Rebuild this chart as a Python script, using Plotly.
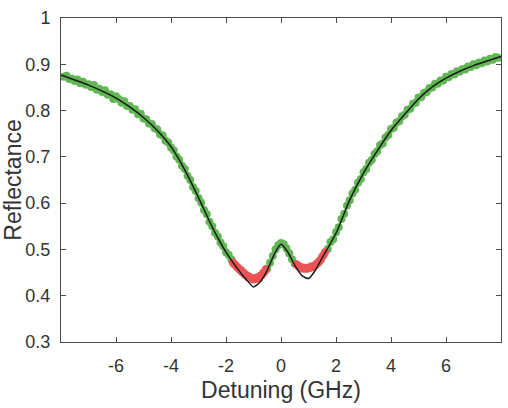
import plotly.graph_objects as go

# Measured data (green), detuning in GHz
green_x = [-7.9, -7.8, -7.7, -7.6, -7.5, -7.4, -7.3, -7.2, -7.1, -7.0,
           -6.9, -6.8, -6.7, -6.6, -6.5, -6.4, -6.3, -6.2, -6.1, -6.0,
           -5.9, -5.8, -5.7, -5.6, -5.5, -5.4, -5.3, -5.2, -5.1, -5.0,
           -4.9, -4.8, -4.7, -4.6, -4.5, -4.4, -4.3, -4.2, -4.1, -4.0,
           -3.9, -3.8, -3.7, -3.6, -3.5, -3.4, -3.3, -3.2, -3.1, -3.0,
           -2.9, -2.8, -2.7, -2.6, -2.5, -2.4, -2.3, -2.2, -2.1, -2.0,
           -1.9, -1.8,
           -0.5, -0.4, -0.3, -0.2, -0.1, 0.0, 0.1, 0.2, 0.3, 0.4, 0.5,
           1.7, 1.8, 1.9, 2.0, 2.1, 2.2, 2.3, 2.4, 2.5, 2.6,
           2.7, 2.8, 2.9, 3.0, 3.1, 3.2, 3.3, 3.4, 3.5, 3.6,
           3.7, 3.8, 3.9, 4.0, 4.1, 4.2, 4.3, 4.4, 4.5, 4.6,
           4.7, 4.8, 4.9, 5.0, 5.1, 5.2, 5.3, 5.4, 5.5, 5.6,
           5.7, 5.8, 5.9, 6.0, 6.1, 6.2, 6.3, 6.4, 6.5, 6.6,
           6.7, 6.8, 6.9, 7.0, 7.1, 7.2, 7.3, 7.4, 7.5, 7.6,
           7.7, 7.8, 7.9]
green_y = [0.873, 0.875, 0.868, 0.869, 0.864, 0.867, 0.859, 0.862, 0.856, 0.857,
           0.851, 0.855, 0.845, 0.847, 0.840, 0.844, 0.834, 0.835, 0.825, 0.831,
           0.825, 0.817, 0.820, 0.810, 0.810, 0.802, 0.803, 0.792, 0.793, 0.783,
           0.781, 0.772, 0.771, 0.762, 0.759, 0.749, 0.746, 0.735, 0.731, 0.720,
           0.714, 0.701, 0.694, 0.681, 0.674, 0.659, 0.650, 0.635, 0.626, 0.611,
           0.601, 0.585, 0.576, 0.560, 0.550, 0.536, 0.528, 0.515, 0.507, 0.494,
           0.488, 0.478,
           0.458, 0.471, 0.486, 0.500, 0.509, 0.514, 0.511, 0.502, 0.491, 0.479, 0.469,
           0.501, 0.516, 0.522, 0.537, 0.548, 0.566, 0.577, 0.595, 0.606, 0.621,
           0.629, 0.644, 0.652, 0.667, 0.674, 0.687, 0.693, 0.706, 0.712, 0.725,
           0.729, 0.742, 0.747, 0.760, 0.763, 0.774, 0.777, 0.788, 0.791, 0.802,
           0.804, 0.815, 0.817, 0.828, 0.829, 0.838, 0.840, 0.849, 0.850, 0.858,
           0.858, 0.865, 0.865, 0.873, 0.872, 0.879, 0.878, 0.885, 0.884, 0.890,
           0.889, 0.895, 0.894, 0.900, 0.898, 0.904, 0.902, 0.908, 0.906, 0.912,
           0.910, 0.916, 0.914]

# Measured data near the dips (red)
red_x = [-1.75, -1.7, -1.65, -1.6, -1.55, -1.5, -1.45, -1.4, -1.35, -1.3,
         -1.25, -1.2, -1.15, -1.1, -1.05, -1.0, -0.95, -0.9, -0.85, -0.8,
         -0.75, -0.7, -0.65, -0.6, -0.55,
         0.55, 0.6, 0.65, 0.7, 0.75, 0.8, 0.85, 0.9, 0.95, 1.0,
         1.05, 1.1, 1.15, 1.2, 1.25, 1.3, 1.35, 1.4, 1.45, 1.5,
         1.55, 1.6]
red_y = [0.472, 0.468, 0.466, 0.462, 0.460, 0.456, 0.455, 0.450, 0.449, 0.445,
         0.444, 0.440, 0.441, 0.437, 0.438, 0.435, 0.438, 0.436, 0.440, 0.438,
         0.443, 0.445, 0.449, 0.452, 0.457,
         0.468, 0.466, 0.463, 0.462, 0.459, 0.461, 0.458, 0.460, 0.458, 0.461,
         0.460, 0.463, 0.462, 0.465, 0.466, 0.469, 0.471, 0.475, 0.478, 0.484,
         0.488, 0.494]

# Fit curve (black)
fit_x = [-8, -7.5, -7, -6.5, -6, -5.5, -5, -4.5, -4, -3.5, -3, -2.5, -2, -1.5,
         -1.25, -1, -0.75, -0.5, -0.25, 0, 0.25, 0.5, 0.75, 1, 1.25, 1.5,
         2, 2.5, 3, 3.5, 4, 4.5, 5, 5.5, 6, 6.5, 7, 7.5, 8]
fit_y = [0.877, 0.866, 0.855, 0.842, 0.827, 0.808, 0.785, 0.757, 0.722, 0.672,
         0.612, 0.548, 0.494, 0.452, 0.434, 0.419, 0.430, 0.455, 0.489, 0.511,
         0.494, 0.466, 0.444, 0.437, 0.455, 0.482, 0.535, 0.607, 0.665, 0.713,
         0.757, 0.792, 0.825, 0.851, 0.870, 0.885, 0.897, 0.907, 0.917]

x_ticks = [-6, -4, -2, 0, 2, 4, 6]
y_ticks = [0.3, 0.4, 0.5, 0.6, 0.7, 0.8, 0.9, 1.0]
y_labels = ["0.3", "0.4", "0.5", "0.6", "0.7", "0.8", "0.9", "1"]

fig = go.Figure()
fig.add_trace(go.Scatter(x=green_x, y=green_y, mode="markers",
                         marker=dict(size=8, color="rgb(98,182,86)", line=dict(width=0)),
                         showlegend=False, hoverinfo="skip"))
fig.add_trace(go.Scatter(x=red_x, y=red_y, mode="markers",
                         marker=dict(size=8, color="rgb(234,84,84)", line=dict(width=0)),
                         showlegend=False, hoverinfo="skip"))
fig.add_trace(go.Scatter(x=fit_x, y=fit_y, mode="lines",
                         line=dict(color="#1a1a1a", width=1.5, shape="spline", smoothing=0.6),
                         showlegend=False, hoverinfo="skip"))

axis_common = dict(showline=True, linecolor="#4d4d4d", linewidth=1, mirror="ticks",
                   ticks="inside", ticklen=5, tickcolor="#4d4d4d", showgrid=False,
                   zeroline=False, automargin=False,
                   tickfont=dict(size=18, color="#333333"))

fig.update_xaxes(range=[-8, 8], tickvals=x_ticks, ticktext=[str(v) for v in x_ticks],
                 title=dict(text="Detuning (GHz)", font=dict(size=23, color="#333333"), standoff=7),
                 ticklabelstandoff=7, **axis_common)
fig.update_yaxes(range=[0.3, 1.0], tickvals=y_ticks, ticktext=y_labels,
                 title=dict(text="Reflectance", font=dict(size=23, color="#333333"), standoff=8),
                 ticklabelstandoff=6, **axis_common)

fig.update_layout(width=508, height=408, margin=dict(l=61, r=7, t=18, b=66),
                  paper_bgcolor="white", plot_bgcolor="white",
                  font=dict(family="Liberation Sans, Arial, sans-serif"))

fig.write_html("out.html")
